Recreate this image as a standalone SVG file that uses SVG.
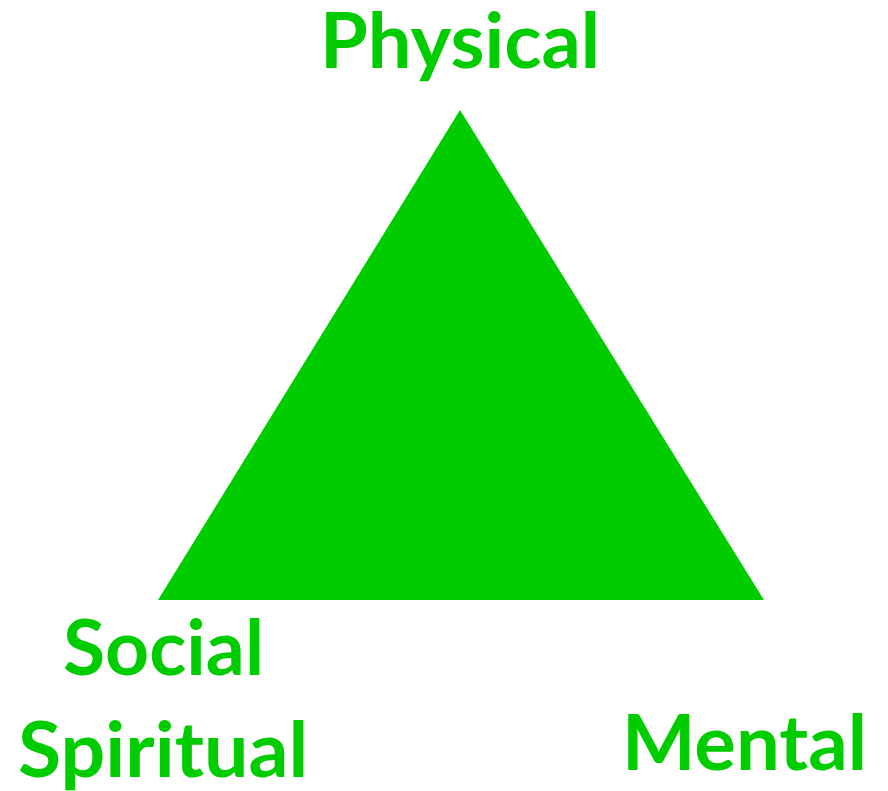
<svg xmlns="http://www.w3.org/2000/svg" width="888" height="791" viewBox="0 0 888 791">
<style>
.lbl{font-family:Lato,"Open Sans","Liberation Sans",sans-serif;font-weight:bold;font-size:76px;fill:#00CC00}
</style>
<rect width="888" height="791" fill="#ffffff"/>
<g id="triangle"><polygon points="460,110 158,600 764,600" fill="#00CC00"/></g>
<g id="connectors"></g>
<g id="physical"><text class="lbl" x="320" y="68" textLength="280" lengthAdjust="spacingAndGlyphs">Physical</text></g>
<g id="social"><text class="lbl" x="63" y="675" textLength="201" lengthAdjust="spacingAndGlyphs">Social</text></g>
<g id="spiritual"><text class="lbl" x="18" y="777" textLength="290" lengthAdjust="spacingAndGlyphs">Spiritual</text></g>
<g id="mental"><text class="lbl" x="622" y="770" textLength="245" lengthAdjust="spacingAndGlyphs">Mental</text></g>
</svg>
